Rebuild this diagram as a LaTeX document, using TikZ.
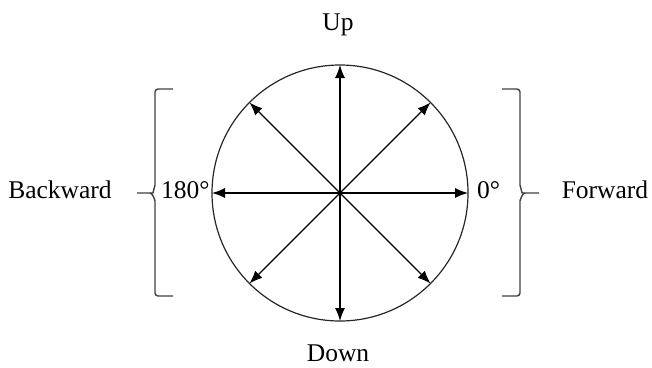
\documentclass[tikz,border=0pt]{standalone}
\usepackage{fontspec}
\setmainfont{Liberation Serif}
\usetikzlibrary{arrows.meta}
\begin{document}
\begin{tikzpicture}[x=1pt,y=-1pt,
  lbl/.style={font=\fontsize{25.5}{29}\selectfont, inner sep=0pt, anchor=base},
  arr/.style={line width=1.2pt, -{Latex[length=13pt,width=10pt]}},
  brk/.style={line width=1.4pt, draw=black!75, rounded corners=3pt}]
\useasboundingbox (0,0) rectangle (652,367);
\node[circle, draw=black!85, line width=1.2pt, minimum size=256pt, inner sep=0pt, outer sep=0pt] (circ) at (340,193) {};
\coordinate (c) at (340,193);
\foreach \a in {0,45,...,315} \draw[arr] (c) -- (circ.\a);
\node[lbl] (up) at (338,30) {Up};
\node[lbl] (down) at (338,361) {Down};
\node[lbl] (back) at (60,198) {Backward};
\node[lbl] (fwd) at (605,198) {Forward};
\node[lbl, anchor=base west] (d180) at (161,198) {180°};
\node[lbl, anchor=base west] (d0) at (477,198) {0°};
% left bracket
\coordinate (lt) at (173,89);
\coordinate (lb) at (173,296);
\coordinate (lm) at (137,193);
\draw[brk] (lt) -- (155,89) -- (155,188) to[out=90,in=0] (150,193) -- (lm);
\draw[brk] (150,193) to[out=0,in=-90] (155,198) -- (155,296) -- (lb);
% right bracket
\coordinate (rt) at (502,89);
\coordinate (rb) at (502,296);
\coordinate (rm) at (539,193);
\draw[brk] (rt) -- (520,89) -- (520,188) to[out=90,in=180] (525,193) -- (rm);
\draw[brk] (525,193) to[out=180,in=-90] (520,198) -- (520,296) -- (rb);
\end{tikzpicture}
\end{document}
